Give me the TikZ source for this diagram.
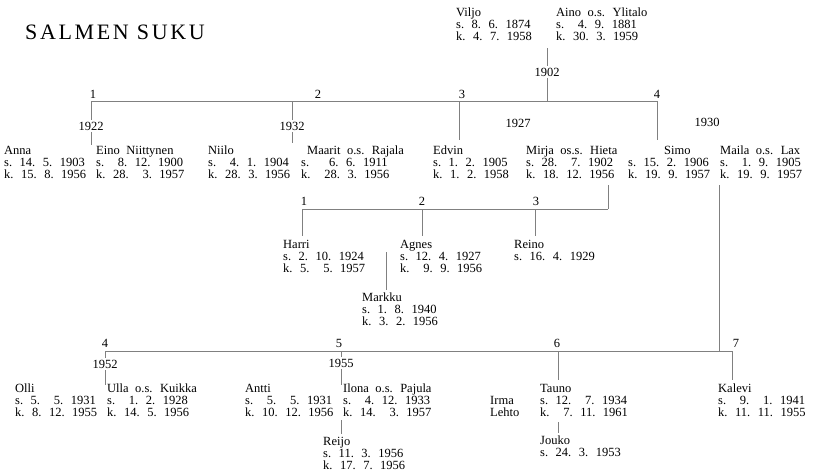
\documentclass[tikz,border=0pt]{standalone}
\usepackage{fontspec}
\setmainfont{Liberation Serif}
\newfontfamily\titlefont[LetterSpace=12]{Liberation Serif}
\usetikzlibrary{positioning}
\newcommand{\fsp}{\phantom{0}}
\newcommand{\personfont}{\fontsize{12.5}{12}\selectfont\spaceskip=6.5pt plus 1pt\relax}

\begin{document}
\begin{tikzpicture}[
  x=1pt, y=-1pt,
  person/.style={anchor=north west, inner sep=0pt, align=left, font=\personfont},
  num/.style={inner sep=0pt, font=\fontsize{12.5}{12}\selectfont},
  year/.style={inner sep=1.5pt, font=\fontsize{12.5}{12}\selectfont},
  line/.style={draw=black!50, line width=0.7pt}
]
  \useasboundingbox (0,0) rectangle (814,475);

  % Title.
  \node[anchor=base west, inner sep=0pt, font=\titlefont\fontsize{22}{22}\selectfont]
    (title) at (25,39) {SALMEN SUKU};

  % Parents.
  \node[person] (viljo) at (456,8) {Viljo\\s. 8. 6. 1874\\k. 4. 7. 1958};
  \node[person] (aino) at (556,8) {Aino o.s. Ylitalo\\s. \fsp4. 9. 1881\\k. 30. 3. 1959};

  % First generation.
  \node[person] (anna) at (4,146) {Anna\\s. 14. 5. 1903\\k. 15. 8. 1956};
  \node[person] (eino) at (96,146) {Eino Niittynen\\s. \fsp8. 12. 1900\\k. 28. \fsp3. 1957};
  \node[person] (niilo) at (208,146) {Niilo\\s. \fsp4. 1. 1904\\k. 28. 3. 1956};
  \node[person] (maarit) at (301,146) {\hspace*{6pt}Maarit o.s. Rajala\\s. \fsp\fsp6. 6. 1911\\k. \fsp28. 3. 1956};
  \node[person] (edvin) at (433,146) {Edvin\\s. 1. 2. 1905\\k. 1. 2. 1958};
  \node[person] (mirja) at (526,146) {Mirja os.s. Hieta\\s. 28. \fsp7. 1902\\k. 18. 12. 1956};
  \node[person] (simo) at (628,146) {\hspace*{36pt}Simo\\s. 15. 2. 1906\\k. 19. 9. 1957};
  \node[person] (maila) at (720,146) {Maila o.s. Lax\\s. \fsp1. 9. 1905\\k. 19. 9. 1957};

  % Children of Edvin and Mirja.
  \node[person] (harri) at (283,240) {Harri\\s. 2. 10. 1924\\k. 5. \fsp5. 1957};
  \node[person] (agnes) at (400,240) {Agnes\\s. 12. 4. 1927\\k. \fsp9. 9. 1956};
  \node[person] (reino) at (514,240) {Reino\\s. 16. 4. 1929};
  \node[person] (markku) at (362,293) {Markku\\s. 1. 8. 1940\\k. 3. 2. 1956};

  % Children of Simo and Maila.
  \node[person] (olli) at (15,384) {Olli\\s. 5. \fsp5. 1931\\k. 8. 12. 1955};
  \node[person] (ulla) at (107,384) {Ulla o.s. Kuikka\\s. \fsp1. 2. 1928\\k. 14. 5. 1956};
  \node[person] (antti) at (245,384) {Antti\\s. \fsp5. \fsp5. 1931\\k. 10. 12. 1956};
  \node[person] (ilona) at (343,384) {Ilona o.s. Pajula\\s. \fsp4. 12. 1933\\k. 14. \fsp3. 1957};
  \node[person] (reijo) at (323,437) {Reijo\\s. 11. 3. 1956\\k. 17. 7. 1956};
  \node[person] (irma) at (490,396) {Irma\\Lehto};
  \node[person] (tauno) at (540,384) {Tauno\\s. 12. \fsp7. 1934\\k. \fsp7. 11. 1961};
  \node[person] (jouko) at (540,436) {Jouko\\s. 24. 3. 1953};
  \node[person] (kalevi) at (718,384) {Kalevi\\s. \fsp9. \fsp1. 1941\\k. 11. 11. 1955};

  % Marriage years.
  \node[year] (y1902) at (547,72) {1902};
  \node[year] (y1922) at (91,126) {1922};
  \node[year] (y1932) at (292,126) {1932};
  \node[year] (y1927) at (518,123) {1927};
  \node[year] (y1930) at (707,122) {1930};
  \node[year] (y1952) at (105,364) {1952};
  \node[year] (y1955) at (341,363) {1955};

  % Birth order numbers.
  \node[num] (n1) at (93,94) {1};
  \node[num] (n2) at (318,94) {2};
  \node[num] (n3) at (462,94) {3};
  \node[num] (n4) at (657,94) {4};
  \node[num] (m1) at (304,201) {1};
  \node[num] (m2) at (422,201) {2};
  \node[num] (m3) at (536,201) {3};
  \node[num] (p4) at (105,343) {4};
  \node[num] (p5) at (339,343) {5};
  \node[num] (p6) at (557,343) {6};
  \node[num] (p7) at (736,343) {7};

  % Junction points.
  \coordinate (vA) at (547,48);  \coordinate (vB) at (547,101);
  \coordinate (b1) at (91,101);  \coordinate (b2) at (292,101);
  \coordinate (b3) at (459,101); \coordinate (b4) at (657,101);
  \coordinate (e1) at (91,145);  \coordinate (e2) at (292,143);
  \coordinate (e3) at (459,140); \coordinate (e4) at (657,140);
  \coordinate (h0) at (608,185); \coordinate (h3) at (608,209);
  \coordinate (c1) at (302,209); \coordinate (c2) at (422,209);
  \coordinate (c3) at (535,209);
  \coordinate (g1) at (302,236); \coordinate (g2) at (422,236);
  \coordinate (g3) at (535,236);
  \coordinate (k0) at (386,252); \coordinate (k1) at (386,290);
  \coordinate (s0) at (719,185); \coordinate (s1) at (719,351);
  \coordinate (d4) at (105,351); \coordinate (d5) at (341,351);
  \coordinate (d6) at (558,351); \coordinate (d7) at (732,351);
  \coordinate (f4) at (105,385); \coordinate (f5) at (341,385);
  \coordinate (f6) at (558,380); \coordinate (f7) at (732,380);
  \coordinate (r0) at (341,420); \coordinate (r1) at (341,434);
  \coordinate (j0) at (558,422); \coordinate (j1) at (558,433);

  % Lines of descent.
  \draw[line] (vA) -- (y1902) -- (vB);
  \draw[line] (b1) -- (b4);
  \draw[line] (b1) -- (y1922) -- (e1);
  \draw[line] (b2) -- (y1932) -- (e2);
  \draw[line] (b3) -- (e3);
  \draw[line] (b4) -- (e4);

  \draw[line] (h0) -- (h3);
  \draw[line] (c1) -- (h3);
  \draw[line] (c1) -- (g1);
  \draw[line] (c2) -- (g2);
  \draw[line] (c3) -- (g3);
  \draw[line] (k0) -- (k1);

  \draw[line] (s0) -- (s1);
  \draw[line] (d4) -- (d7);
  \draw[line] (d4) -- (y1952) -- (f4);
  \draw[line] (d5) -- (y1955) -- (f5);
  \draw[line] (d6) -- (f6);
  \draw[line] (d7) -- (f7);
  \draw[line] (r0) -- (r1);
  \draw[line] (j0) -- (j1);
\end{tikzpicture}
\end{document}
